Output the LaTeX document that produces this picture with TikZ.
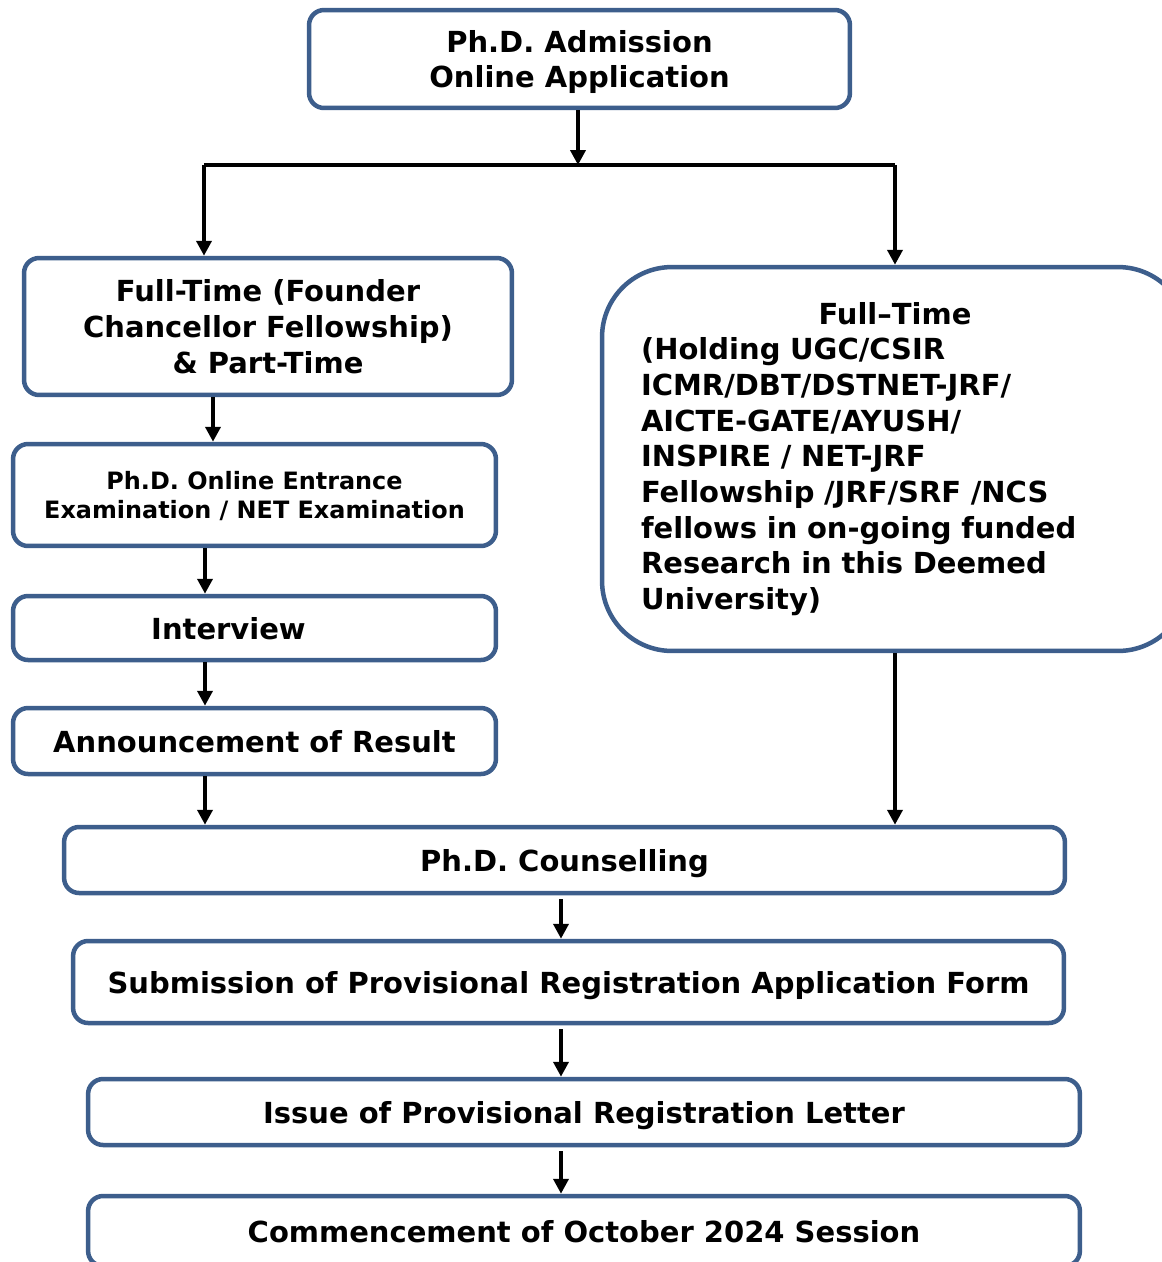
\documentclass[tikz,border=0pt]{standalone}
\usepackage{fontspec}
\setmainfont{DejaVu Sans}
\usetikzlibrary{arrows.meta}
\definecolor{boxblue}{RGB}{61,94,140}

\begin{document}
\begin{tikzpicture}[x=0.02cm, y=-0.02cm,
        stepbox/.style={draw=boxblue, line width=0.09cm, rounded corners=0.3cm, align=center, inner sep=0pt,
                font=\bfseries\fontsize{16.5}{20.3}\selectfont},
        shortbox/.style={stepbox, text depth=0pt},
        flow/.style={line width=0.08cm, -{Triangle[length=0.3cm, width=0.3cm]}}]
            \pgfmathsetmacro{\leftCol}{254.5}
            \pgfmathsetmacro{\rightCol}{895}
            \pgfmathsetmacro{\lowCol}{584}

            \fill[white] (0,0) rectangle (1162,1262);
            \useasboundingbox (0,0) rectangle (1162,1262);
            \clip (0,0) rectangle (1162,1262);

            \node[shortbox, minimum width=10.82cm, minimum height=1.96cm] (apply) at (579.5, 59) {Ph.D. Admission\\Online Application};

            % the two ways in
            \node[shortbox, minimum width=9.76cm, minimum height=2.74cm] (fullpart) at (268, 326.5) {Full-Time (Founder\\Chancellor Fellowship)\\\& Part-Time};
            \node[stepbox, rounded corners=1.4cm, minimum width=11.72cm, minimum height=7.68cm, text width=10.16cm, align=left] (fellow) at (\rightCol, 459) {\makebox[\linewidth]{Full--Time}\\(Holding UGC/CSIR\\ICMR/DBT/DSTNET-JRF/\\AICTE-GATE/AYUSH/\\INSPIRE / NET-JRF\\Fellowship /JRF/SRF /NCS\\fellows in on-going funded\\Research in this Deemed\\University)};

            % left column
            \node[shortbox, minimum width=9.66cm, minimum height=2.04cm, font=\bfseries\fontsize{13.6}{16.5}\selectfont] (exam) at (\leftCol, 495) {Ph.D. Online Entrance\\Examination / NET Examination};
            \node[shortbox, minimum width=9.66cm, minimum height=1.28cm] (interview) at (\leftCol, 628) {\hspace*{-1.04cm}Interview};
            \node[shortbox, minimum width=9.66cm, minimum height=1.32cm] (result) at (\leftCol, 741) {Announcement of Result};

            % common steps
            \node[shortbox, minimum width=20.02cm, minimum height=1.32cm] (counsel) at (564.5, 860) {Ph.D. Counselling};
            \node[shortbox, minimum width=19.82cm, minimum height=1.64cm] (submit) at (568.5, 982) {Submission of Provisional Registration Application Form};
            \node[shortbox, minimum width=19.84cm, minimum height=1.32cm] (letter) at (\lowCol, 1112) {Issue of Provisional Registration Letter};
            \node[shortbox, minimum width=19.84cm, minimum height=1.4cm] (session) at (\lowCol, 1231) {Commencement of October 2024 Session};

            % split below the first box
            \coordinate (split) at (578, 165);
            \coordinate (splitL) at (204, 165);
            \coordinate (splitR) at (\rightCol, 165);
            \coordinate (lcol) at (205, 0);
            \coordinate (mcol) at (561, 0);

            \draw[flow] (apply.south -| split) -- (split);
            \draw[line width=0.08cm] (splitL) -- (splitR);
            \draw[flow] (splitL) -- (fullpart.north -| splitL);
            \draw[flow] (splitR) -- (fellow.north);

            \draw[flow] ([xshift=0.16cm]fullpart.south -| lcol) -- ([xshift=0.16cm]exam.north -| lcol);
            \foreach \a/\b in {exam/interview, interview/result, result/counsel}
            \draw[flow] (\a.south -| lcol) -- (\b.north -| lcol);
            \draw[flow] (fellow.south) -- (counsel.north -| fellow.south);

            \foreach \a/\b in {counsel/submit, submit/letter, letter/session}
            \draw[flow] ([yshift=-0.08cm]\a.south -| mcol) -- (\b.north -| mcol);

        \end{tikzpicture}
\end{document}
